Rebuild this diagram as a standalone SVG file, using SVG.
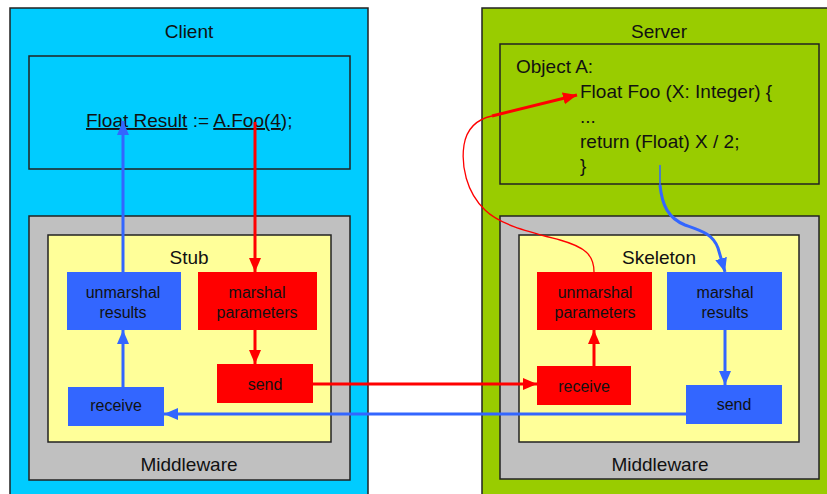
<svg xmlns="http://www.w3.org/2000/svg" width="827" height="494" viewBox="0 0 827 494">
  <style>
    text { font-family: "Liberation Sans", Arial, sans-serif; fill: #111; }
    .title { font-size: 19px; text-anchor: middle; }
    .code { font-size: 19px; }
    .box { font-size: 16px; text-anchor: middle; }
    .frame { stroke: #222; stroke-width: 1.5; }
    .client { fill: #00CCFF; }
    .server { fill: #99CC00; }
    .mw { fill: #C0C0C0; }
    .inner { fill: #FFFF99; }
    .blue { fill: #3366FF; }
    .red { fill: #FF0000; }
    .u { text-decoration: underline; }
    .lr { stroke: #FF0000; stroke-width: 3; fill: none; }
    .lb { stroke: #3366FF; stroke-width: 3; fill: none; }
    .thinr { stroke: #FF0000; stroke-width: 1.3; fill: none; }
    .thinb { stroke: #3366FF; stroke-width: 1.5; fill: none; }
  </style>
  <defs>
    <marker id="arrowRed" markerUnits="userSpaceOnUse" markerWidth="14" markerHeight="14" refX="14" refY="7" orient="auto">
      <path d="M0,1 L14,7 L0,13 z" fill="#FF0000"/>
    </marker>
    <marker id="arrowBlue" markerUnits="userSpaceOnUse" markerWidth="14" markerHeight="14" refX="14" refY="7" orient="auto">
      <path d="M0,1 L14,7 L0,13 z" fill="#3366FF"/>
    </marker>
  </defs>

  <rect width="827" height="494" fill="#FFFFFF"/>

  <!-- Client side -->
  <g id="client">
    <rect class="client frame" x="10" y="8" width="358" height="500"/>
    <text class="title" x="189" y="38">Client</text>
  </g>
  <g id="client-code">
    <rect class="client frame" x="29" y="56" width="321" height="113"/>
    <text class="code" x="86" y="127"><tspan class="u">Float Result</tspan> := <tspan class="u">A.Foo(4</tspan>);</text>
  </g>
  <g id="client-middleware">
    <rect class="mw frame" x="29" y="216" width="321" height="264"/>
    <text class="title" x="189" y="471">Middleware</text>
  </g>
  <g id="stub">
    <rect class="inner frame" x="48" y="235" width="283" height="207"/>
    <text class="title" x="189" y="264">Stub</text>
  </g>
  <g id="stub-unmarshal">
    <rect class="blue" x="67" y="272" width="114" height="58"/>
    <text class="box" x="123" y="298">unmarshal</text>
    <text class="box" x="123" y="318">results</text>
  </g>
  <g id="stub-marshal">
    <rect class="red" x="198" y="272" width="119" height="58"/>
    <text class="box" x="257" y="298">marshal</text>
    <text class="box" x="257" y="318">parameters</text>
  </g>
  <g id="stub-send">
    <rect class="red" x="217" y="364" width="96" height="39"/>
    <text class="box" x="265" y="390">send</text>
  </g>
  <g id="stub-receive">
    <rect class="blue" x="68" y="387" width="96" height="39"/>
    <text class="box" x="116" y="411">receive</text>
  </g>

  <!-- Server side -->
  <g id="server">
    <rect class="server frame" x="482" y="8" width="360" height="500"/>
    <text class="title" x="659" y="38">Server</text>
  </g>
  <g id="object-a">
    <rect class="server frame" x="500" y="44" width="319" height="140"/>
    <text class="code" x="516" y="73">Object A:</text>
    <text class="code" x="580" y="98">Float Foo (X: Integer) {</text>
    <text class="code" x="580" y="123">...</text>
    <text class="code" x="580" y="148">return (Float) X / 2;</text>
    <text class="code" x="580" y="172">}</text>
  </g>
  <g id="server-middleware">
    <rect class="mw frame" x="500" y="216" width="319" height="263"/>
    <text class="title" x="660" y="471">Middleware</text>
  </g>
  <g id="skeleton">
    <rect class="inner frame" x="519" y="235" width="280" height="207"/>
    <text class="title" x="659" y="264">Skeleton</text>
  </g>
  <g id="skeleton-unmarshal">
    <rect class="red" x="537" y="272" width="115" height="58"/>
    <text class="box" x="595" y="298">unmarshal</text>
    <text class="box" x="595" y="318">parameters</text>
  </g>
  <g id="skeleton-marshal">
    <rect class="blue" x="667" y="272" width="115" height="58"/>
    <text class="box" x="725" y="298">marshal</text>
    <text class="box" x="725" y="318">results</text>
  </g>
  <g id="skeleton-receive">
    <rect class="red" x="537" y="366" width="94" height="39"/>
    <text class="box" x="584" y="392">receive</text>
  </g>
  <g id="skeleton-send">
    <rect class="blue" x="686" y="385" width="96" height="39"/>
    <text class="box" x="734" y="410">send</text>
  </g>

  <!-- Connectors -->
  <g id="connectors">
    <line class="lb" x1="123" y1="272" x2="123" y2="121" marker-end="url(#arrowBlue)"/>
    <line class="lr" x1="255" y1="122" x2="255" y2="272" marker-end="url(#arrowRed)"/>
    <line class="lr" x1="255" y1="330" x2="255" y2="364" marker-end="url(#arrowRed)"/>
    <line class="lb" x1="123" y1="387" x2="123" y2="330" marker-end="url(#arrowBlue)"/>
    <line class="lr" x1="313" y1="384" x2="537" y2="384" marker-end="url(#arrowRed)"/>
    <line class="lb" x1="686" y1="414" x2="164" y2="414" marker-end="url(#arrowBlue)"/>
    <line class="lr" x1="594" y1="366" x2="594" y2="330" marker-end="url(#arrowRed)"/>
    <line class="lb" x1="725" y1="330" x2="725" y2="385" marker-end="url(#arrowBlue)"/>
    <!-- call dispatched from the skeleton up into Object A -->
    <path class="thinr" d="M594,272 C594,255 585,247 560,240 C530,232 500,225 485,210 C466,192 461,165 464,145 C467,127 478,119 492,116"/>
    <path class="lr" d="M492,116 L577,95" marker-end="url(#arrowRed)"/>
    <!-- return value handed to the skeleton -->
    <path class="thinb" d="M660,165 L660,185"/>
    <path class="lb" d="M660,185 C662,205 668,218 685,225 C702,231 713,234 718,248 L725,272" marker-end="url(#arrowBlue)"/>
  </g>
</svg>
